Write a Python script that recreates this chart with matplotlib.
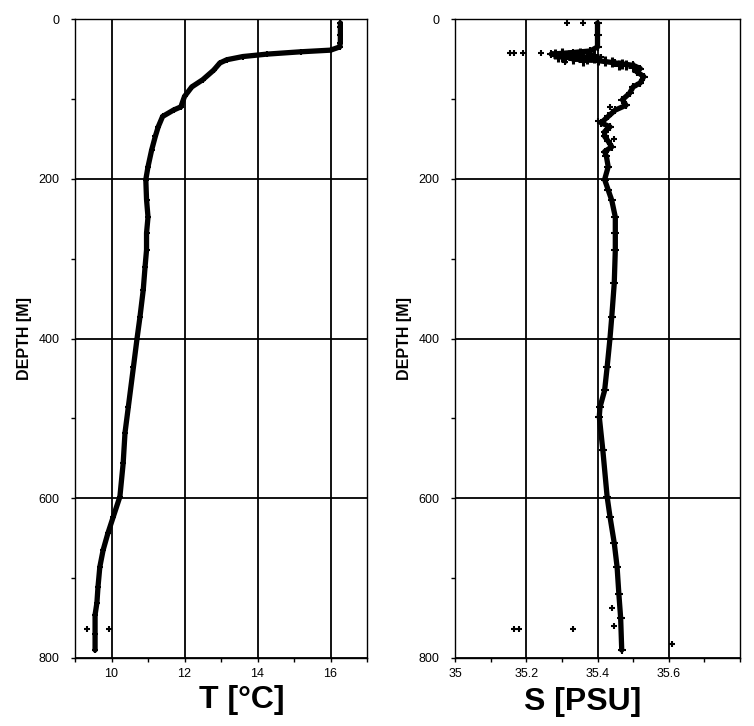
import matplotlib
matplotlib.use("Agg")
import matplotlib.pyplot as plt
from matplotlib.ticker import MultipleLocator

plt.rcParams['font.family'] = ['Liberation Sans', 'DejaVu Sans']

# ---- Temperature profile (depth m, T degC) ----
depth_T = [5, 10, 20, 30, 35, 39, 41, 44, 47, 51, 55, 64, 76, 85, 97, 110, 114,
           122, 135, 147, 164, 185, 201, 226, 248, 268, 289, 310, 339, 373, 400,
           436, 486, 518, 556, 598, 623, 644, 665, 686, 711, 731, 746, 770, 790]
temp = [16.27, 16.27, 16.27, 16.27, 16.25, 16.0, 15.2, 14.25, 13.6, 13.16, 12.97,
        12.8, 12.5, 12.2, 12.0, 11.9, 11.7, 11.4, 11.28, 11.2, 11.1, 11.0, 10.94,
        10.96, 11.0, 10.96, 10.96, 10.92, 10.87, 10.78, 10.7, 10.6, 10.46, 10.37,
        10.32, 10.23, 10.05, 9.9, 9.77, 9.68, 9.63, 9.6, 9.55, 9.55, 9.55]
out_T_depth = [764, 764]
out_T_val = [9.33, 9.93]

# ---- Salinity profile (depth m, S PSU) ----
depth_S = [5, 20, 35, 40, 42, 44, 46, 48, 50, 52, 55, 58, 62, 66, 72, 80, 85, 93,
           101, 108, 114, 122, 130, 135, 141, 147, 153, 160, 166, 172, 185, 201,
           214, 227, 248, 268, 289, 331, 373, 400, 436, 465, 486, 498, 540, 598,
           623, 656, 686, 720, 750, 790]
sal = [35.40, 35.40, 35.40, 35.38, 35.33, 35.27, 35.30, 35.36, 35.33, 35.40,
       35.45, 35.50, 35.52, 35.51, 35.53, 35.52, 35.50, 35.49, 35.47, 35.48,
       35.45, 35.43, 35.41, 35.435, 35.42, 35.42, 35.43, 35.44, 35.42, 35.425,
       35.43, 35.42, 35.43, 35.44, 35.45, 35.45, 35.45, 35.447, 35.44, 35.435,
       35.427, 35.42, 35.407, 35.405, 35.415, 35.427, 35.435, 35.447, 35.455,
       35.46, 35.465, 35.468]
# dense cloud of readings in the halocline mixing zone
blob_depth = [42, 43, 44, 45, 46, 47, 48, 49, 50, 44, 46, 48, 50, 45, 47, 49,
              51, 53, 52, 54, 56, 58, 60, 57]
blob_val = [35.35, 35.30, 35.28, 35.32, 35.36, 35.38, 35.35, 35.31, 35.37,
            35.38, 35.34, 35.29, 35.33, 35.39, 35.30, 35.39, 35.40, 35.42,
            35.36, 35.44, 35.47, 35.48, 35.50, 35.46]
out_S_depth = [5, 5, 42, 42, 42, 42, 54, 44, 48, 764, 764, 764, 783, 738, 760,
               110, 128, 150]
out_S_val = [35.315, 35.36, 35.155, 35.165, 35.19, 35.24, 35.31, 35.38, 35.41,
             35.165, 35.18, 35.33, 35.61, 35.44, 35.445, 35.435, 35.40, 35.445]

fig = plt.figure(figsize=(7.54, 7.26), dpi=100)

ax1 = fig.add_axes([75/754, 1-658/726, (367-75)/754, (658-19)/726])
ax2 = fig.add_axes([455/754, 1-658/726, (740-455)/754, (658-19)/726])


def style(ax, xlim, xmaj, xmin, labels):
    ax.set_ylim(800, 0)
    ax.set_xlim(*xlim)
    ax.yaxis.set_major_locator(MultipleLocator(200))
    ax.yaxis.set_minor_locator(MultipleLocator(100))
    ax.set_xticks(xmaj)
    ax.set_xticklabels(labels)
    ax.set_xticks(xmin, minor=True)
    ax.grid(True, which='major', color='black', linewidth=1.3)
    ax.set_axisbelow(True)
    ax.tick_params(which='both', direction='out', length=3, width=1,
                   labelsize=9, color='black')
    ax.tick_params(axis='y', pad=8)
    ax.tick_params(axis='x', pad=4)
    for s in ax.spines.values():
        s.set_linewidth(1.0)
        s.set_color('black')
    ax.set_ylabel('DEPTH [M]', fontsize=11.5, fontweight='bold', labelpad=5)


style(ax1, (9, 17), [9, 10, 12, 14, 16, 17], [11, 13, 15],
      ['', '10', '12', '14', '16', ''])
ax1.xaxis.get_gridlines()[0].set_visible(False)
ax1.xaxis.get_gridlines()[-1].set_visible(False)

style(ax2, (35, 35.8), [35, 35.2, 35.4, 35.6, 35.8], [35.1, 35.3, 35.5, 35.7],
      ['35', '35.2', '35.4', '35.6', ''])
ax2.xaxis.get_gridlines()[0].set_visible(False)
ax2.xaxis.get_gridlines()[-1].set_visible(False)

# Temperature
ax1.plot(temp, depth_T, color='black', linewidth=3.8, solid_capstyle='round',
         solid_joinstyle='round')
ax1.plot(temp, depth_T, linestyle='none', marker='+', color='black',
         markersize=5, markeredgewidth=1.5)
ax1.plot(out_T_val, out_T_depth, linestyle='none', marker='+', color='black',
         markersize=4, markeredgewidth=1.5)

# Salinity
ax2.plot(sal, depth_S, color='black', linewidth=3.8, solid_capstyle='round',
         solid_joinstyle='round')
ax2.plot(sal, depth_S, linestyle='none', marker='+', color='black',
         markersize=6, markeredgewidth=1.5)
ax2.plot(blob_val, blob_depth, linestyle='none', marker='+', color='black',
         markersize=7, markeredgewidth=2.2)
ax2.plot(out_S_val, out_S_depth, linestyle='none', marker='+', color='black',
         markersize=4, markeredgewidth=1.5)

fig.text(242/754, 1-700/726, 'T [°C]', fontsize=23, fontweight='bold',
         ha='center', va='center')
fig.text(583/754, 1-702/726, 'S [PSU]', fontsize=23, fontweight='bold',
         ha='center', va='center')

fig.savefig('out.png', dpi=100, facecolor='white')
